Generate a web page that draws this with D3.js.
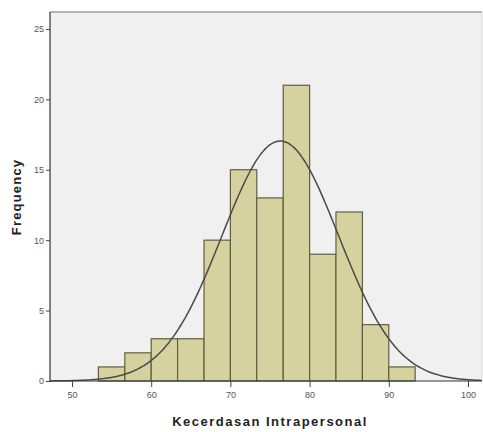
<!DOCTYPE html>
<html>
<head>
<meta charset="utf-8">
<script src="https://cdn.jsdelivr.net/npm/d3@7"></script>
<style>
  body { margin: 0; background: #fff; }
  svg { display: block; font-family: Arial, "Liberation Sans", sans-serif; }
</style>
</head>
<body>
<div id="chart"></div>
<script>
// histogram bins (lower / upper edges) and counts
const binStarts = [53.33, 56.67, 60, 63.33, 66.67, 70, 73.33, 76.67, 80, 83.33, 86.67, 90];
const binEnds = [56.67, 60, 63.33, 66.67, 70, 73.33, 76.67, 80, 83.33, 86.67, 90, 93.33];
const counts = [1, 2, 3, 3, 10, 15, 13, 21, 9, 12, 4, 1];

// normal curve fitted by SPSS
const curveMean = 76.3;
const curveSd = 7.35;
const curveN = 94;

const xTicks = [50, 60, 70, 80, 90, 100];
const yTicks = [0, 5, 10, 15, 20, 25];

const width = 483, height = 432;
const plot = { left: 50, top: 12, right: 482, bottom: 381 };

const svg = d3.select('#chart').append('svg')
    .attr('width', width)
    .attr('height', height);

const x = d3.scaleLinear().domain([47.22, 101.77]).range([plot.left, plot.right]);
const y = d3.scaleLinear().domain([0, 26.2]).range([plot.bottom, plot.top]);

// plot background
svg.append('rect')
    .attr('x', plot.left).attr('y', plot.top)
    .attr('width', plot.right - plot.left).attr('height', plot.bottom - plot.top)
    .attr('fill', '#f0f0f0');

// top frame line
svg.append('line')
    .attr('x1', plot.left).attr('x2', plot.right)
    .attr('y1', plot.top).attr('y2', plot.top)
    .attr('stroke', '#b4b4b4').attr('stroke-width', 2);
svg.append('line')
    .attr('x1', plot.right).attr('x2', plot.right)
    .attr('y1', plot.top).attr('y2', plot.bottom)
    .attr('stroke', '#dcdcdc').attr('stroke-width', 1);

// bars
const bins = counts.map((c, i) => ({ x0: binStarts[i], x1: binEnds[i], count: c }));
svg.append('g')
    .selectAll('rect')
    .data(bins)
    .join('rect')
    .attr('x', d => x(d.x0))
    .attr('y', d => y(d.count))
    .attr('width', d => x(d.x1) - x(d.x0))
    .attr('height', d => y(0) - y(d.count))
    .attr('fill', '#d6d2a0')
    .attr('stroke', '#5f5f3f')
    .attr('stroke-width', 1.2);

// normal curve
const binWidth = binEnds[0] - binStarts[0];
const curvePts = d3.range(x.domain()[0], x.domain()[1] + 0.01, 0.25).map(v => {
    const z = (v - curveMean) / curveSd;
    return [v, curveN * binWidth * Math.exp(-0.5 * z * z) / (curveSd * Math.sqrt(2 * Math.PI))];
});
svg.append('path')
    .datum(curvePts)
    .attr('fill', 'none')
    .attr('stroke', '#4a4a4a')
    .attr('stroke-width', 1.5)
    .attr('d', d3.line().x(d => x(d[0])).y(d => y(d[1])).curve(d3.curveBasis));

// axes
const yAxis = svg.append('g')
    .attr('transform', `translate(${plot.left},0)`)
    .call(d3.axisLeft(y).tickValues(yTicks).tickSize(4).tickPadding(2));
const xAxis = svg.append('g')
    .attr('transform', `translate(0,${plot.bottom})`)
    .call(d3.axisBottom(x).tickValues(xTicks).tickSize(6).tickPadding(5));

[xAxis, yAxis].forEach(a => {
    a.select('.domain').attr('stroke', '#333').attr('stroke-width', 1.2);
    a.selectAll('.tick line').attr('stroke', '#444');
    a.selectAll('.tick text').attr('fill', '#555').attr('font-size', 9);
});
// extend the x axis line across the full plot width
xAxis.select('.domain').attr('d', `M${plot.left},0H${plot.right}`);
yAxis.select('.domain').attr('d', `M0,${plot.top}V${plot.bottom}`);

// axis titles
svg.append('text')
    .attr('x', 270).attr('y', 426)
    .attr('text-anchor', 'middle')
    .attr('font-size', 13).attr('font-weight', 'bold')
    .attr('letter-spacing', 1.5)
    .attr('fill', '#222')
    .text('Kecerdasan Intrapersonal');

svg.append('text')
    .attr('transform', 'translate(21,197) rotate(-90)')
    .attr('text-anchor', 'middle')
    .attr('font-size', 13).attr('font-weight', 'bold')
    .attr('letter-spacing', 1.2)
    .attr('fill', '#222')
    .text('Frequency');
</script>
</body>
</html>
